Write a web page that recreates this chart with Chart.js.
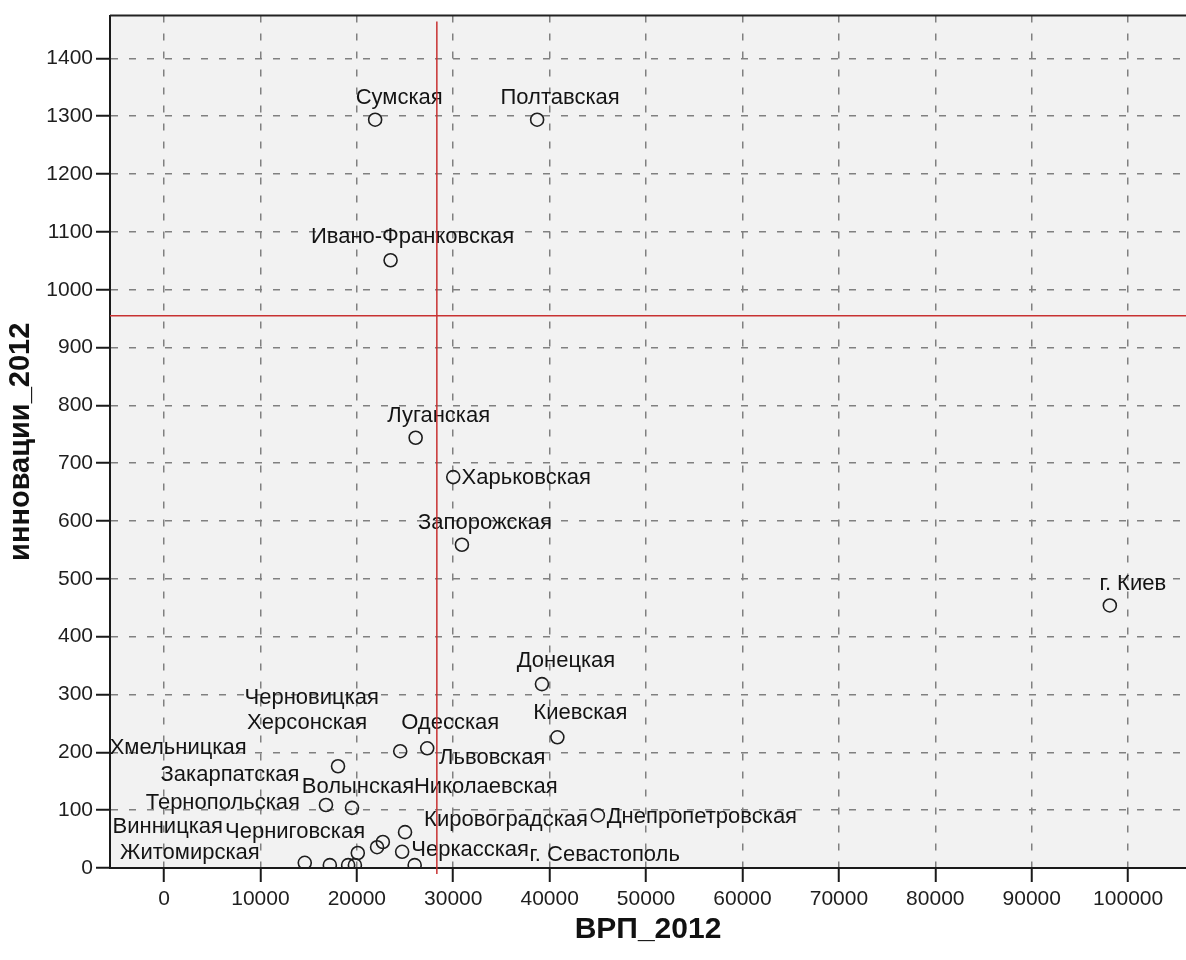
<!DOCTYPE html>
<html>
<head>
<meta charset="utf-8">
<script src="https://cdn.jsdelivr.net/npm/chart.js@4.4.0/dist/chart.umd.min.js"></script>
<style>
html, body { margin: 0; padding: 0; background: #fff; }
</style>
</head>
<body>
<canvas id="chartContainer_Scatter" width="1186" height="960"></canvas>
<script>
var regions = ['Сумская', 'Полтавская', 'Ивано-Франковская', 'Луганская', 'Харьковская',
    'Запорожская', 'г. Киев', 'Донецкая', 'Киевская', 'Днепропетровская',
    'Львовская', 'Одесская', 'Херсонская', 'Закарпатская', 'Волынская',
    'Кировоградская', 'Черкасская', 'Черновицкая', 'Тернопольская', 'Хмельницкая',
    'Житомирская', 'Винницкая', 'Черниговская', 'Николаевская', 'г. Севастополь'];
var vrp2012 = [21900, 38700, 23500, 26100, 30000,
    30900, 98100, 39200, 40800, 45000,
    24500, 27300, 18050, 16800, 19500,
    25000, 24700, 14600, 17200, 19100,
    19800, 20100, 22100, 22700, 26000];
var innov2012 = [1294, 1294, 1051, 744, 676,
    559, 454, 318, 226, 91,
    202, 207, 176, 109, 104,
    62, 28, 9, 5, 5,
    5, 26, 36, 45, 5];
var xTicks = [0, 10000, 20000, 30000, 40000, 50000, 60000, 70000, 80000, 90000, 100000];
var yTicks = [0, 100, 200, 300, 400, 500, 600, 700, 800, 900, 1000, 1100, 1200, 1300, 1400];
var refLineX = 28300;
var refLineY = 955;

// where each name sits relative to its marker, px
var labelOffsets = [[24, -22], [23, -22], [22, -23], [23, -22], [73, 1],
    [23, -22], [23, -22], [24, -23], [23, -24], [104, 2],
    [92, 7], [23, -25], [-31, -43], [-96, -30], [6, -21],
    [101, -12], [68, -2], [7, -165], [-107, -62], [-170, -117],
    [-165, -12], [-190, -26], [-82, -15], [103, -55], [190, -10]];

var fontFamily = '"Liberation Sans", Arial, sans-serif';
Chart.defaults.font.family = fontFamily;

var points = [];
for (var i = 0; i < regions.length; i++) {
    points.push({ x: vrp2012[i], y: innov2012[i] });
}

var plotDecor = {
    id: 'plotDecor',
    beforeDraw: function(chart) {
        var ctx = chart.ctx;
        var a = chart.chartArea;
        ctx.save();
        ctx.fillStyle = '#fff';
        ctx.fillRect(0, 0, chart.width, chart.height);
        ctx.fillStyle = '#f2f2f2';
        ctx.fillRect(a.left, a.top, a.right - a.left, a.bottom - a.top);
        ctx.restore();
    },
    afterDatasetsDraw: function(chart) {
        var ctx = chart.ctx;
        var a = chart.chartArea;
        var meta = chart.getDatasetMeta(0);
        ctx.save();
        ctx.font = '22px ' + fontFamily;
        ctx.fillStyle = '#141414';
        ctx.textAlign = 'center';
        ctx.textBaseline = 'middle';
        meta.data.forEach(function(pt, i) {
            ctx.fillText(regions[i], pt.x + labelOffsets[i][0], pt.y + labelOffsets[i][1]);
        });

        var rx = chart.scales.x.getPixelForValue(refLineX);
        var ry = chart.scales.y.getPixelForValue(refLineY);
        ctx.strokeStyle = '#c83232';
        ctx.lineWidth = 1.5;
        ctx.beginPath();
        ctx.moveTo(rx, a.top + 6);
        ctx.lineTo(rx, a.bottom + 6);
        ctx.moveTo(a.left, ry);
        ctx.lineTo(a.right, ry);
        ctx.stroke();

        ctx.strokeStyle = '#222';
        ctx.lineWidth = 2;
        ctx.beginPath();
        ctx.moveTo(a.left, a.top);
        ctx.lineTo(a.right, a.top);
        ctx.stroke();
        ctx.restore();
    }
};

function axisGrid() {
    return {
        color: '#808080',
        lineWidth: 1.5,
        tickLength: 14,
        tickColor: '#1a1a1a',
        tickWidth: 2,
        tickBorderDash: []
    };
}

var ctx = document.getElementById('chartContainer_Scatter');
var chart = new Chart(ctx, {
    type: 'scatter',
    data: {
        datasets: [{
            label: 'инновации_2012',
            data: points,
            pointStyle: 'circle',
            pointRadius: 6.5,
            pointBorderWidth: 1.6,
            pointBorderColor: '#1e1e1e',
            pointBackgroundColor: 'rgba(0,0,0,0)'
        }]
    },
    options: {
        responsive: false,
        animation: false,
        devicePixelRatio: 1,
        layout: { autoPadding: false, padding: { top: 14, left: 0, right: 0, bottom: 0 } },
        plugins: {
            legend: { display: false },
            tooltip: { enabled: false }
        },
        scales: {
            x: {
                type: 'linear',
                min: -5600,
                max: 106000,
                afterBuildTicks: function(scale) {
                    scale.ticks = xTicks.map(function(v) { return { value: v }; });
                },
                afterFit: function(scale) { scale.height = 92; },
                ticks: {
                    autoSkip: false,
                    maxRotation: 0,
                    padding: 5,
                    color: '#1e1e1e',
                    font: { size: 21 },
                    callback: function(v) { return String(v); }
                },
                grid: axisGrid(),
                border: { display: true, color: '#1a1a1a', width: 2, dash: [7, 11] },
                title: {
                    display: true,
                    text: 'ВРП_2012',
                    color: '#111',
                    font: { size: 30, weight: 'bold' },
                    padding: { top: 0, bottom: 12 }
                }
            },
            y: {
                type: 'linear',
                min: 0,
                max: 1474,
                afterBuildTicks: function(scale) {
                    scale.ticks = yTicks.map(function(v) { return { value: v }; });
                },
                afterFit: function(scale) { scale.width = 110; },
                ticks: {
                    autoSkip: false,
                    padding: 3,
                    color: '#1e1e1e',
                    font: { size: 21 },
                    callback: function(v) { return String(v); }
                },
                grid: axisGrid(),
                border: { display: true, color: '#1a1a1a', width: 2, dash: [7, 11] },
                title: {
                    display: true,
                    text: 'инновации_2012',
                    color: '#111',
                    font: { size: 29, weight: 'bold' },
                    padding: { top: 4, bottom: 0 }
                }
            }
        }
    },
    plugins: [plotDecor]
});
</script>
</body>
</html>
